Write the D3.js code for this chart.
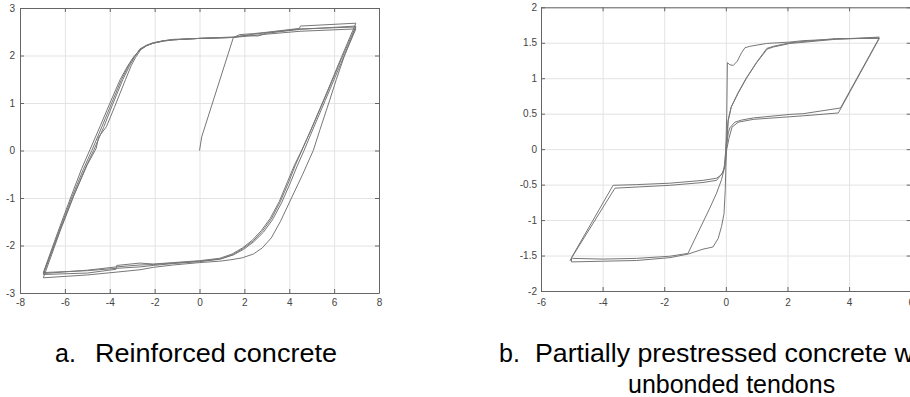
<!DOCTYPE html>
<html>
<head>
<meta charset="utf-8">
<script src="https://cdn.jsdelivr.net/npm/d3@7"></script>
<style>
  html, body { margin: 0; padding: 0; background: #fff; overflow: hidden; }
  svg { display: block; }
  .tick text { font-family: "Liberation Sans", Arial, sans-serif; font-size: 10px; fill: #444; }
  .caption { font-family: "Liberation Sans", Arial, sans-serif; font-size: 25px; fill: #000; }
</style>
</head>
<body>
<svg id="chart" width="910" height="397"></svg>
<script>
// ---------- Tick values ----------
const rcXTicks = [-8, -6, -4, -2, 0, 2, 4, 6, 8];
const rcYTicks = [-3, -2, -1, 0, 1, 2, 3];
const ppXTicks = [-6, -4, -2, 0, 2, 4, 6];
const ppYTicks = [-2, -1.5, -1, -0.5, 0, 0.5, 1, 1.5, 2];

// ---------- Captions ----------
const captionA = ["a.", "Reinforced concrete"];
const captionB = ["b.", "Partially prestressed concrete with", "unbonded tendons"];

// ---------- (a) Reinforced concrete: hysteresis curves [x, y] ----------
const rcInitial = [[0, 0], [0.1, 0.29], [1.51, 2.38]];

const rcCycle1 = [
  [1.51, 2.38], [2.2, 2.41], [3.0, 2.45], [4.48, 2.51], [6.97, 2.56],
  [6.3, 1.83], [5.6, 1.05], [4.95, 0.33], [4.66, 0.0], [4.35, -0.33], [4.05, -0.68], [3.66, -1.1],
  [3.25, -1.46], [2.85, -1.72], [2.42, -1.92], [1.97, -2.08], [1.5, -2.2], [0.9, -2.29],
  [0.0, -2.34], [-1.17, -2.38], [-2.06, -2.42], [-2.65, -2.45], [-3.69, -2.48], [-5.0, -2.53], [-6.96, -2.57],
  [-6.3, -1.7], [-5.75, -1.0], [-5.25, -0.38], [-4.88, 0.02], [-4.42, 0.52], [-3.99, 1.0],
  [-3.54, 1.49], [-3.2, 1.78], [-2.95, 1.96], [-2.65, 2.12], [-2.35, 2.21], [-2.06, 2.26], [-1.61, 2.31],
  [-1.17, 2.33], [0.0, 2.36], [1.51, 2.38]
];

const rcCycle2 = [
  [1.51, 2.38], [1.8, 2.44], [2.4, 2.46], [3.0, 2.49], [4.45, 2.57], [4.5, 2.62], [6.97, 2.68],
  [6.34, 1.98], [5.62, 1.16], [4.95, 0.42], [4.56, 0.0], [4.28, -0.3], [3.98, -0.66], [3.6, -1.08],
  [3.2, -1.44], [2.8, -1.7], [2.4, -1.9], [1.95, -2.06], [1.5, -2.19], [0.95, -2.28],
  [0.0, -2.33], [-1.17, -2.37], [-2.06, -2.4], [-2.65, -2.41], [-3.7, -2.45], [-5.0, -2.52], [-6.96, -2.59],
  [-6.28, -1.72], [-5.7, -1.0], [-5.18, -0.4], [-4.8, 0.0], [-4.35, 0.5], [-3.93, 0.98],
  [-3.48, 1.49], [-3.15, 1.8], [-2.92, 1.97], [-2.65, 2.13], [-2.35, 2.21], [-2.06, 2.26], [-1.61, 2.31],
  [-1.17, 2.33], [0.0, 2.36], [1.51, 2.39]
];

const rcCycle3 = [
  [1.51, 2.39], [2.0, 2.42], [2.6, 2.41], [3.0, 2.47], [4.48, 2.55], [6.97, 2.62],
  [6.32, 1.92], [5.6, 1.12], [4.92, 0.38], [4.5, -0.05], [4.22, -0.32], [3.92, -0.66], [3.55, -1.08],
  [3.15, -1.43], [2.75, -1.69], [2.35, -1.89], [1.92, -2.05], [1.45, -2.18], [0.9, -2.27],
  [0.0, -2.32], [-1.17, -2.36], [-2.06, -2.39], [-2.65, -2.37], [-3.69, -2.42], [-3.72, -2.5], [-5.0, -2.58], [-6.96, -2.61],
  [-6.25, -1.72], [-5.65, -1.0], [-5.1, -0.38], [-4.72, 0.0], [-4.28, 0.48], [-3.88, 0.96],
  [-3.42, 1.49], [-3.1, 1.8], [-2.88, 1.98], [-2.65, 2.14], [-2.35, 2.22], [-2.06, 2.27], [-1.61, 2.31],
  [-1.17, 2.34], [0.0, 2.36], [1.51, 2.38]
];

const rcCycle4 = [
  [1.51, 2.38], [2.1, 2.43], [3.0, 2.48], [4.48, 2.56], [6.97, 2.6],
  [6.45, 1.98], [6.1, 1.5], [5.81, 1.07], [5.37, 0.44], [5.07, 0.0], [4.6, -0.5], [4.1, -1.0],
  [3.6, -1.5], [3.2, -1.84], [2.8, -2.05], [2.4, -2.18], [1.9, -2.26], [1.4, -2.3], [0.9, -2.33],
  [0.0, -2.36], [-1.17, -2.41], [-2.06, -2.46], [-2.65, -2.51], [-3.69, -2.56], [-5.0, -2.62], [-6.96, -2.68],
  [-6.2, -1.68], [-5.6, -0.95], [-5.0, -0.3], [-4.6, 0.05], [-4.5, 0.28], [-4.15, 0.5], [-3.8, 0.9],
  [-3.3, 1.49], [-3.05, 1.78], [-2.85, 1.96], [-2.62, 2.12], [-2.35, 2.21], [-2.06, 2.26], [-1.61, 2.3],
  [-1.17, 2.33], [0.0, 2.36], [1.51, 2.38]
];

// ---------- (b) Partially prestressed concrete: hysteresis curves [x, y] ----------
const ppInitial = [
  [0.0, 0.0], [0.03, 0.5], [0.05, 1.22], [0.13, 1.19], [0.24, 1.18], [0.37, 1.24],
  [0.51, 1.36], [0.62, 1.43], [0.78, 1.45], [1.32, 1.49], [2.08, 1.51], [2.51, 1.53],
  [3.59, 1.55], [4.98, 1.57]
];

const ppCycle1 = [
  [4.98, 1.57], [3.72, 0.58], [2.51, 0.5], [2.08, 0.49], [0.89, 0.44], [0.51, 0.41],
  [0.29, 0.38], [0.13, 0.3], [0.08, 0.23], [0.04, 0.1], [0.0, 0.0], [-0.03, -0.25],
  [-0.14, -0.36], [-0.3, -0.41], [-0.74, -0.44], [-1.82, -0.48], [-2.9, -0.5], [-3.66, -0.51],
  [-5.01, -1.53], [-5.01, -1.59], [-3.98, -1.58], [-2.9, -1.57], [-1.82, -1.53], [-1.23, -1.48],
  [-0.74, -1.41], [-0.42, -1.38], [-0.25, -1.26], [-0.14, -1.09], [-0.06, -0.91], [-0.02, -0.58],
  [0.0, -0.25], [0.02, 0.0], [0.08, 0.41], [0.18, 0.6], [0.4, 0.79], [0.67, 1.0], [1.0, 1.22],
  [1.34, 1.41], [1.54, 1.44], [2.08, 1.49], [3.59, 1.55], [4.98, 1.58]
];

const ppCycle2 = [
  [4.98, 1.56], [3.65, 0.51], [2.51, 0.47], [0.89, 0.42], [0.4, 0.38], [0.2, 0.31],
  [0.1, 0.15], [0.03, 0.0], [-0.02, -0.2], [-0.1, -0.33], [-0.3, -0.44], [-0.74, -0.47],
  [-1.82, -0.51], [-3.6, -0.55], [-5.06, -1.57], [-4.98, -1.54], [-3.98, -1.55], [-2.9, -1.54],
  [-1.82, -1.51], [-1.23, -1.47], [-0.52, -0.83], [-0.3, -0.62], [-0.14, -0.43], [-0.06, -0.29],
  [-0.02, -0.1], [0.0, 0.0], [0.07, 0.4], [0.17, 0.59], [0.39, 0.79], [0.66, 1.0], [0.99, 1.22],
  [1.33, 1.42], [1.54, 1.45], [2.08, 1.5], [3.59, 1.56], [4.98, 1.56]
];

// ---------- Drawing ----------
const svg = d3.select("#chart");
const boxColor = "#666";
const gridColor = "#e3e3e3";
const lineColor = "#777";
const tickFmt = d => String(d);

function drawPanel(cfg) {
  const x = d3.scaleLinear().domain(cfg.xDomain).range(cfg.xRange);
  const y = d3.scaleLinear().domain(cfg.yDomain).range(cfg.yRange);
  const g = svg.append("g");
  const left = cfg.xRange[0], right = cfg.xRange[1];
  const top = cfg.yRange[1], bottom = cfg.yRange[0];

  // grid
  const gridX = g.append("g").attr("transform", `translate(0,${bottom})`)
    .call(d3.axisBottom(x).tickValues(cfg.xTicks).tickSize(-(bottom - top)).tickFormat(""));
  gridX.select(".domain").remove();
  gridX.selectAll("line").attr("stroke", gridColor);
  const gridY = g.append("g").attr("transform", `translate(${left},0)`)
    .call(d3.axisLeft(y).tickValues(cfg.yTicks).tickSize(-(right - left)).tickFormat(""));
  gridY.select(".domain").remove();
  gridY.selectAll("line").attr("stroke", gridColor);

  // curves
  const line = d3.line().x(d => x(d[0])).y(d => y(d[1]));
  g.append("g").selectAll("path").data(cfg.curves).join("path")
    .attr("d", line).attr("fill", "none")
    .attr("stroke", lineColor).attr("stroke-width", 1).attr("stroke-linejoin", "round");

  // axes (box with inward ticks)
  const ax = [
    g.append("g").attr("transform", `translate(0,${bottom})`)
      .call(d3.axisBottom(x).tickValues(cfg.xTicks).tickSizeInner(-4).tickSizeOuter(0).tickPadding(cfg.xPad).tickFormat(tickFmt)),
    g.append("g").attr("transform", `translate(${left},0)`)
      .call(d3.axisLeft(y).tickValues(cfg.yTicks).tickSizeInner(-4).tickSizeOuter(0).tickPadding(cfg.yPad).tickFormat(tickFmt)),
    g.append("g").attr("transform", `translate(0,${top})`)
      .call(d3.axisTop(x).tickValues(cfg.xTicks).tickSizeInner(-4).tickSizeOuter(0).tickFormat("")),
    g.append("g").attr("transform", `translate(${right},0)`)
      .call(d3.axisRight(y).tickValues(cfg.yTicks).tickSizeInner(-4).tickSizeOuter(0).tickFormat(""))
  ];
  ax.forEach(a => {
    a.select(".domain").attr("stroke", boxColor);
    a.selectAll(".tick line").attr("stroke", boxColor);
    a.attr("font-family", null).attr("font-size", null);
  });
}

drawPanel({
  xDomain: [-8, 8], xRange: [20, 379],
  yDomain: [-3, 3], yRange: [293, 8],
  xTicks: rcXTicks, yTicks: rcYTicks, xPad: 6, yPad: 5,
  curves: [rcInitial, rcCycle1, rcCycle2, rcCycle3, rcCycle4]
});

drawPanel({
  xDomain: [-6, 6], xRange: [541, 910.7],
  yDomain: [-2, 2], yRange: [291, 7.3],
  xTicks: ppXTicks, yTicks: ppYTicks, xPad: 8, yPad: 4,
  curves: [ppInitial, ppCycle1, ppCycle2]
});

// captions
svg.append("text").attr("class", "caption").attr("x", 55).attr("y", 362).text(captionA[0]);
svg.append("text").attr("class", "caption").attr("x", 95).attr("y", 362)
  .attr("textLength", 242).attr("lengthAdjust", "spacingAndGlyphs").text(captionA[1]);
svg.append("text").attr("class", "caption").attr("x", 499).attr("y", 362).text(captionB[0]);
svg.append("text").attr("class", "caption").attr("x", 535).attr("y", 362)
  .attr("textLength", 407).attr("lengthAdjust", "spacingAndGlyphs").text(captionB[1]);
svg.append("text").attr("class", "caption").attr("x", 628).attr("y", 393).text(captionB[2]);
</script>
</body>
</html>
